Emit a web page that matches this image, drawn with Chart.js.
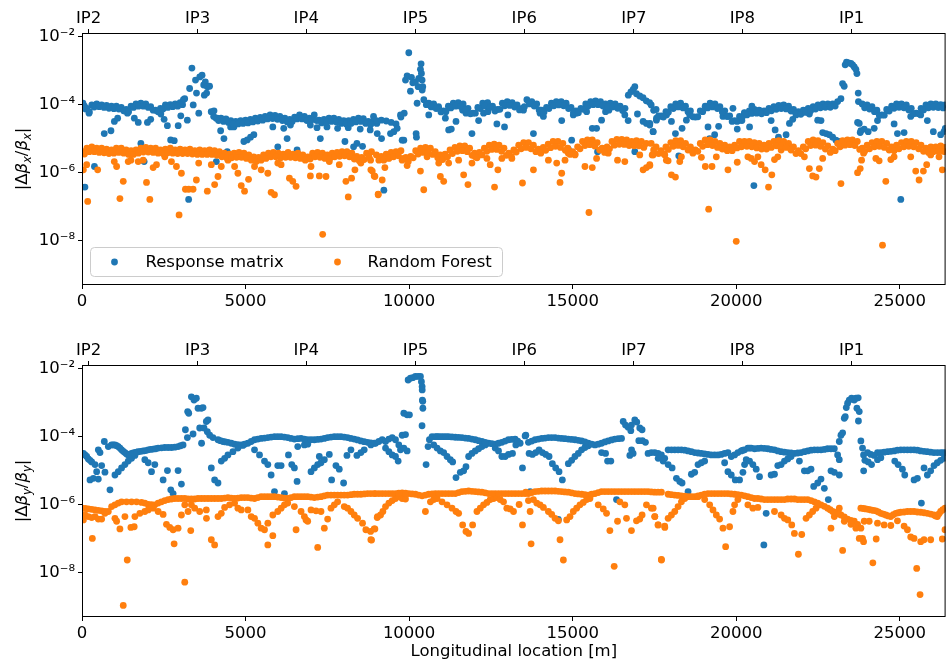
<!DOCTYPE html>
<html lang="en">
<head>
<meta charset="UTF-8">
<title>Beta-beating along the ring</title>
<script src="https://cdn.jsdelivr.net/npm/chart.js"></script>
<style>
  body { margin: 0; background: #fff; width: 949px; height: 663px; overflow: hidden; position: relative; }
  canvas { position: absolute; left: 0; }
  #topPanel { top: 0; }
  #bottomPanel { top: 332px; }
</style>
</head>
<body>
<canvas id="topPanel" width="949" height="310"></canvas>
<canvas id="bottomPanel" width="949" height="331"></canvas>
<script>
// interaction points shown on the upper axis
const ipNames = ['IP2', 'IP3', 'IP4', 'IP5', 'IP6', 'IP7', 'IP8', 'IP1'];
const ipPos = [200, 3535, 6855, 10195, 13520, 16870, 20185, 23525];
const xTicks = [0, 5000, 10000, 15000, 20000, 25000];
const yTicks = [1e-8, 1e-6, 1e-4, 1e-2];
const yTickLabels = ['10⁻⁸', '10⁻⁶', '10⁻⁴', '10⁻²'];

// horizontal plane, response matrix
const sRespX = [
  30,150,300,450,600,750,900,1050,1200,1350,1500,1650,1800,1950,2100,2250,2400,2550,2700,2850,3000,3100,
  3140,3290,3360,3400,3470,3500,3570,3600,3670,3720,3770,3830,3740,3900,3810,
  3950,4100,4250,4400,4550,4700,4850,5000,5150,5300,5450,5600,5750,5900,6050,6200,6350,6500,6650,6800,6950,7100,7250,7400,7550,7700,7850,8000,8150,8300,8450,8600,8750,8900,
  90,110,215,380,680,885,990,1090,1290,1390,1600,1720,1800,1900,2000,2100,2410,2510,2610,2710,2820,2940,3020,3220,3260,
  4035,4136,4238,4339,4106,4441,4543,4644,4949,5051,5152,5254,5833,5985,6168,6270,6372,6575,6981,7184,7286,7489,7814,8038,8139,8302,8404,8505,8576,8810,8912,9013,
  9000,9150,9300,9450,9600,9750,9850,
  8822,9025,9157,9228,9431,9533,9635,9736,9787,
  9889,9939,9990,10041,10071,10112,10193,10244,10295,10346,10366,10376,10397,10417,10400,10275,10214,10224,9838,
  10450,10600,10750,10900,11050,11200,11350,11500,11650,11800,11950,12100,12250,12400,12550,12700,12850,13000,13150,13300,13450,13600,13750,13900,14050,14200,14350,14500,14650,14800,14950,15100,15250,15400,15550,15700,15850,16000,16150,16300,16450,16600,
  16700,16780,16850,16900,16950,17050,17150,17250,17350,
  10600,10905,11108,11209,11290,11433,11636,11738,11921,12124,12276,12408,12683,12916,13018,13495,13800,14003,14105,14664,14867,14969,15019,15121,15426,15599,15731,15761,15883,16005,16107,16594,16696,16899,16980,17153,17255,17356,17458,17560,17712,
  17400,17550,17700,17850,18000,18150,18300,18450,18600,18750,18900,19050,19200,19350,19500,19650,19800,19950,20100,20250,20400,20550,20700,20850,21000,21150,21300,21450,21600,21750,21900,22050,22200,22350,22500,22650,22800,22950,23100,23200,
  23250,23300,23330,23370,23435,23506,23557,23607,23658,23689,23729,23735,23760,23790,
  23850,24000,24150,24300,24450,24600,24750,24900,25050,25200,25350,25500,25650,25800,25950,26100,26250,26380,
  17359,17460,17562,17867,18019,18141,18243,18344,18476,18578,19137,19188,19340,19462,19594,19746,19899,20031,20071,20173,20254,20407,20478,20539,21067,21189,21291,21392,21524,21626,21728,21829,21982,22236,22490,22591,22642,22744,22845,22947,23048,23150,23709,23810,23912,24034,24217,24318,24826,24928,25030,25131,25334,25639,25842,26025,26249,26350,26390
];
const respX = [
  1.1e-4,7.8e-5,9.8e-5,1.05e-4,9.8e-5,9.5e-5,9e-5,9e-5,8.3e-5,7.2e-5,9e-5,1.05e-4,1.1e-4,1.05e-4,8.7e-5,6.9e-5,7.8e-5,9.8e-5,1e-4,1.05e-4,1.15e-4,1.4e-4,
  1.5e-4,3.0e-4,1.2e-3,9.8e-5,5.3e-4,2.2e-4,5.6e-5,6.6e-4,7.4e-4,3.8e-4,4.7e-4,3.4e-4,1.9e-4,3.5e-4,2.2e-4,
  6.2e-5,4.0e-5,4.0e-5,3.8e-5,3.4e-5,3.2e-5,3.4e-5,3.5e-5,3.7e-5,4.0e-5,4.2e-5,4.5e-5,5.0e-5,4.8e-5,4.5e-5,4.0e-5,3.7e-5,4.3e-5,5.0e-5,4.5e-5,4.0e-5,5.0e-5,3.5e-5,3.7e-5,4.0e-5,4.0e-5,3.7e-5,3.4e-5,3.4e-5,3.7e-5,4.0e-5,3.9e-5,3.2e-5,3.2e-5,
  3.7e-7,7.4e-5,5.6e-5,1.5e-6,1.4e-5,1.7e-5,3.2e-5,4.0e-5,6.6e-5,5.6e-5,4.0e-5,3.0e-5,7.2e-6,2.1e-6,3.0e-5,3.7e-5,5.3e-5,3.7e-5,2.4e-5,9.1e-6,8.7e-6,2.4e-5,4.7e-5,3.5e-5,1.6e-7,
  6.6e-5,4.0e-5,1.7e-5,1.0e-5,2.1e-6,4.1e-6,2.2e-5,2.2e-5,8.2e-6,9.1e-6,1.1e-5,1.3e-5,2.2e-5,5.7e-6,2.0e-5,1.0e-5,2.5e-5,4.6e-6,2.5e-5,2.1e-5,1.0e-5,2.2e-5,2.0e-5,8.2e-6,2.1e-5,5.7e-6,7.2e-6,1.9e-5,5.9e-6,1.8e-5,4.5e-5,2.8e-5,
  3.4e-5,3.5e-5,3.3e-5,3.0e-5,2.7e-5,4.3e-5,5.6e-5,
  2.8e-5,1.4e-5,1.0e-5,3.0e-7,1.4e-5,1.6e-5,2.0e-5,5.0e-5,9.0e-6,
  5.3e-4,7.0e-4,3.4e-3,2.5e-4,6.4e-4,4.4e-4,4.7e-4,1.1e-4,6.0e-4,1.1e-3,1.6e-3,8.3e-4,5.3e-4,3.4e-4,2.7e-4,3.4e-4,1.4e-5,1.1e-5,9.0e-6,
  1.4e-4,1.1e-4,1.05e-4,8.7e-5,6.6e-5,9.0e-5,1.1e-4,1.15e-4,1.05e-4,7.8e-5,5.6e-5,8.3e-5,1.1e-4,1.15e-4,9.0e-5,7.2e-5,1.1e-4,1.23e-4,1.15e-4,9.8e-5,7.8e-5,1.4e-4,1.23e-4,1.05e-4,6.9e-5,8.3e-5,1.1e-4,1.23e-4,1.23e-4,1.1e-4,8.3e-5,6.6e-5,7.8e-5,1.05e-4,1.23e-4,1.3e-4,1.23e-4,1.05e-4,1.1e-4,1.05e-4,9.0e-5,7.8e-5,
  1.9e-4,2.4e-4,2.8e-4,3.4e-4,2.1e-4,1.8e-4,1.6e-4,1.3e-4,1.15e-4,
  5.0e-5,7.8e-5,4.0e-5,1.8e-5,1.9e-5,3.2e-5,6.9e-5,5.6e-5,1.4e-5,3.4e-5,5.6e-5,6.2e-5,2.7e-5,2.2e-5,5.0e-5,6.9e-5,1.4e-5,5.6e-5,4.5e-5,3.4e-5,4.9e-6,9.0e-6,5.0e-5,5.6e-5,6.2e-5,2.0e-5,2.0e-5,4.1e-6,3.5e-5,6.2e-5,6.9e-5,5.0e-5,3.4e-5,4.1e-6,5.3e-5,3.2e-5,2.8e-5,2.5e-5,1.6e-5,3.5e-5,4.7e-5,
  9.8e-5,7.2e-5,4.5e-5,6.2e-5,8.7e-5,1.05e-4,1.1e-4,9.0e-5,6.6e-5,4.3e-5,6.6e-5,9.0e-5,1.1e-4,1.05e-4,8.7e-5,6.6e-5,4.7e-5,3.4e-5,4.5e-5,5.8e-5,6.6e-5,7.2e-5,6.9e-5,6.6e-5,7.8e-5,8.7e-5,9.5e-5,9.8e-5,9.0e-5,7.2e-5,6.2e-5,6.9e-5,7.8e-5,8.7e-5,9.8e-5,1.05e-4,1.05e-4,1.05e-4,1.23e-4,1.5e-4,
  4.2e-4,3.5e-4,1.5e-3,1.8e-3,1.7e-3,1.65e-3,1.5e-3,1.3e-3,1.1e-3,8.3e-4,2.2e-4,1.23e-4,2.8e-5,1.5e-5,
  1.05e-4,9.8e-5,8.7e-5,6.9e-5,5.0e-5,7.2e-5,9.0e-5,1.05e-4,1.05e-4,9.8e-5,7.8e-5,5.6e-5,7.8e-5,9.8e-5,1.05e-4,1.05e-4,1.0e-4,9.8e-5,
  2.8e-5,1.6e-5,4.0e-5,5.0e-5,3.2e-5,1.4e-5,3.1e-6,2.0e-5,3.5e-5,5.0e-5,2.2e-5,1.0e-5,1.3e-5,2.3e-5,4.5e-5,4.5e-5,7.8e-5,1.9e-5,3.4e-5,3.4e-5,5.6e-5,2.2e-5,9.0e-5,4.1e-7,3.4e-5,1.8e-5,1.1e-5,5.7e-6,1.3e-5,2.8e-5,3.7e-5,5.0e-5,5.6e-5,5.3e-5,3.5e-5,3.4e-5,1.5e-5,1.4e-5,1.3e-5,1.1e-5,9.0e-6,8.2e-6,3.0e-5,1.7e-5,1.9e-5,1.6e-5,2.0e-5,3.4e-5,2.7e-5,1.4e-5,1.6e-7,1.5e-5,4.5e-5,5.0e-5,3.4e-5,1.6e-5,1.3e-5,1.6e-5,2.0e-5
];
// lower edge of the response matrix band, horizontal plane
const sRespXLow = [
  75,225,375,525,675,825,975,1125,1275,1425,1575,1725,1875,2025,2175,2325,2475,2625,2775,2925,3075,
  4025,4175,4325,4475,4625,4775,4925,5075,5225,5375,5525,5675,5825,5975,6125,6275,6425,6575,6725,6875,7025,7175,7325,7475,7625,7775,7925,8075,8225,8375,8525,8675,8825,
  10525,10675,10825,10975,11125,11275,11425,11575,11725,11875,12025,12175,12325,12475,12625,12775,12925,13075,13225,13375,13525,13675,13825,13975,14125,14275,14425,14575,14725,14875,15025,15175,15325,15475,15625,15775,15925,16075,16225,16375,16525,
  17475,17625,17775,17925,18075,18225,18375,18525,18675,18825,18975,19125,19275,19425,19575,19725,19875,20025,20175,20325,20475,20625,20775,20925,21075,21225,21375,21525,21675,21825,21975,22125,22275,22425,22575,22725,22875,23025,
  23925,24075,24225,24375,24525,24675,24825,24975,25125,25275,25425,25575,25725,25875,26025,26175,26325
];
const respXLow = [
  9.0e-5,6.2e-5,8.5e-5,8.7e-5,8.3e-5,7.8e-5,7.6e-5,7.4e-5,6.6e-5,6.2e-5,8.3e-5,9.0e-5,9.0e-5,8.3e-5,6.9e-5,6.2e-5,7.4e-5,8.3e-5,8.7e-5,9.0e-5,1.0e-4,
  4.5e-5,3.4e-5,3.2e-5,3.0e-5,2.7e-5,2.7e-5,2.8e-5,2.9e-5,3.1e-5,3.3e-5,3.5e-5,3.8e-5,3.9e-5,3.7e-5,3.4e-5,3.1e-5,3.2e-5,3.8e-5,3.8e-5,3.4e-5,3.6e-5,3.4e-5,2.9e-5,3.1e-5,3.2e-5,3.1e-5,2.8e-5,2.7e-5,2.8e-5,3.1e-5,3.2e-5,2.8e-5,2.6e-5,
  1.0e-4,8.6e-5,7.7e-5,6.1e-5,6.2e-5,8.0e-5,9.0e-5,8.8e-5,7.3e-5,5.4e-5,5.6e-5,7.7e-5,9.0e-5,8.2e-5,6.5e-5,7.3e-5,9.3e-5,9.5e-5,8.5e-5,7.0e-5,8.7e-5,1.05e-4,9.1e-5,7.0e-5,6.1e-5,7.7e-5,9.3e-5,9.8e-5,9.3e-5,7.7e-5,6.0e-5,5.8e-5,7.3e-5,9.1e-5,1.0e-4,1.0e-4,9.1e-5,8.6e-5,8.6e-5,7.8e-5,6.7e-5,
  6.8e-5,4.7e-5,4.3e-5,6.0e-5,7.7e-5,8.6e-5,8.0e-5,6.2e-5,4.4e-5,4.4e-5,6.2e-5,8.0e-5,8.6e-5,7.7e-5,6.1e-5,4.5e-5,3.2e-5,3.2e-5,4.1e-5,5.0e-5,5.5e-5,5.6e-5,5.4e-5,5.8e-5,6.6e-5,7.3e-5,7.7e-5,7.5e-5,6.5e-5,5.4e-5,5.2e-5,5.9e-5,6.6e-5,7.4e-5,8.1e-5,8.4e-5,8.4e-5,9.1e-5,
  8.1e-5,7.4e-5,6.2e-5,4.8e-5,4.9e-5,6.5e-5,7.8e-5,8.4e-5,8.1e-5,7.0e-5,5.4e-5,5.4e-5,7.0e-5,8.1e-5,8.4e-5,8.2e-5,8.0e-5
];

// horizontal plane, random forest
const sForestX = [
  20,150,300,450,600,750,900,1050,1200,1350,1500,1650,1800,1950,2100,2250,2400,2550,2700,2850,3000,3150,3300,3450,3600,3750,3900,4050,4200,4350,4500,4650,4800,4950,5100,5250,5400,5550,5700,5850,6000,6150,6300,6450,6600,6750,6900,7050,7200,7350,7500,7650,7800,7950,8100,8250,8400,8550,8700,8850,
  9000,9150,9300,9450,9600,9750,9900,10050,10200,10350,10500,10650,10800,10950,11100,11250,11400,11550,11700,11850,12000,12150,12300,12450,12600,12750,12900,13050,13200,13350,13500,13650,13800,13950,14100,14250,14400,14550,14700,14850,15000,15150,15300,15450,15600,15750,15900,16050,16200,16350,16500,16650,16800,16950,17100,17250,
  17400,17550,17700,17850,18000,18150,18300,18450,18600,18750,18900,19050,19200,19350,19500,19650,19800,19950,20100,20250,20400,20550,20700,20850,21000,21150,21300,21450,21600,21750,21900,22050,22200,22350,22500,22650,22800,22950,23100,23250,23400,23550,23700,23850,24000,24150,24300,24450,24600,24750,24900,25050,25200,25350,25500,25650,25800,25950,26100,26250,26380,
  42,143,174,479,987,1058,1159,1261,1413,1495,1718,1871,1972,2074,2175,2277,2531,2734,2887,2968,3039,3161,3263,3395,3496,3567,3831,3953,4055,4157,4258,4461,4665,4766,4868,4969,5091,5274,5477,5681,5782,5884,5985,6087,6341,6443,6544,7001,6981,7255,7459,7357,7560,7865,8068,8139,8241,8343,8525,8830,8932,9054,
  8822,8873,8954,9055,9177,9259,9381,9787,9939,10346,10447,10549,10905,10955,11057,11209,11514,11667,11799,11921,12022,12378,12479,12611,12713,12835,13140,13465,13800,14257,14511,14613,14664,14766,14867,15070,15375,15497,15599,15731,16086,16371,16594,17051,17153,17255,17356,17458,17864,
  17359,17430,17816,17918,18019,18141,18273,18324,18629,18934,19055,19157,19259,19391,19747,19848,20000,20031,20153,20356,20458,20559,20661,20762,20884,20986,21088,21169,21270,21372,21575,22083,22236,22337,22439,22540,22642,23201,23709,23790,23831,23892,24268,24369,24471,24572,24725,24826,25334,25487,25589,25721,25822,25944,26198,26300,26390
];
const forestX = [
  4.1e-6,5.2e-6,5.7e-6,5.2e-6,5.2e-6,4.9e-6,4.6e-6,5.2e-6,5.2e-6,4.6e-6,4.4e-6,4.6e-6,5.2e-6,5.5e-6,5.2e-6,5.2e-6,4.6e-6,4.9e-6,5.2e-6,4.6e-6,4.9e-6,4.6e-6,4.9e-6,4.4e-6,4.6e-6,4.4e-6,4.6e-6,4.4e-6,4.1e-6,3.7e-6,3.5e-6,3.7e-6,3.9e-6,3.7e-6,3.3e-6,2.9e-6,2.8e-6,3.3e-6,3.7e-6,3.9e-6,3.7e-6,3.5e-6,3.9e-6,3.5e-6,3.7e-6,3.3e-6,2.9e-6,3.7e-6,3.9e-6,3.7e-6,3.3e-6,3.7e-6,3.9e-6,4.1e-6,4.1e-6,3.7e-6,3.0e-6,2.8e-6,3.7e-6,4.1e-6,
  3.3e-6,3.0e-6,3.5e-6,3.9e-6,4.1e-6,4.4e-6,2.8e-6,3.0e-6,4.4e-6,5.2e-6,5.5e-6,5.2e-6,4.1e-6,3.3e-6,3.5e-6,4.6e-6,5.5e-6,6.1e-6,6.1e-6,5.2e-6,3.7e-6,3.9e-6,5.2e-6,6.4e-6,6.9e-6,6.4e-6,5.2e-6,3.7e-6,4.6e-6,6.4e-6,7.6e-6,7.6e-6,6.4e-6,4.9e-6,5.5e-6,6.9e-6,8.2e-6,8.2e-6,7.2e-6,5.2e-6,4.1e-6,5.7e-6,8.2e-6,9.1e-6,9.1e-6,7.6e-6,5.2e-6,5.7e-6,8.2e-6,9.5e-6,9.5e-6,9.1e-6,8.2e-6,8.7e-6,8.2e-6,7.2e-6,
  7.2e-6,5.7e-6,4.4e-6,5.7e-6,7.6e-6,8.7e-6,8.7e-6,7.2e-6,5.7e-6,4.6e-6,7.2e-6,9.1e-6,9.1e-6,8.2e-6,7.2e-6,6.4e-6,5.7e-6,6.4e-6,8.2e-6,8.2e-6,8.2e-6,7.6e-6,7.2e-6,6.4e-6,7.2e-6,8.2e-6,8.7e-6,8.2e-6,7.2e-6,5.7e-6,4.4e-6,5.7e-6,8.2e-6,9.1e-6,8.7e-6,7.6e-6,6.1e-6,4.9e-6,7.2e-6,8.7e-6,9.1e-6,9.1e-6,8.2e-6,5.2e-6,6.4e-6,7.6e-6,8.2e-6,8.2e-6,7.2e-6,5.7e-6,6.4e-6,7.6e-6,8.2e-6,8.2e-6,7.6e-6,6.4e-6,5.2e-6,5.7e-6,5.7e-6,6.1e-6,5.5e-6,
  1.2e-6,1.7e-6,1.4e-7,1.2e-6,2.1e-6,1.5e-6,1.7e-7,5.5e-7,2.1e-6,2.3e-6,2.1e-6,2.3e-6,5.1e-7,1.6e-7,1.4e-6,1.7e-6,2.9e-6,2.1e-6,1.5e-6,5.6e-8,9.5e-7,3.2e-7,3.2e-7,3.2e-7,6.0e-7,1.9e-6,2.8e-7,1.7e-6,4.4e-7,7.6e-7,1.5e-6,2.3e-6,1.5e-6,9.5e-7,4.1e-7,2.8e-7,6.3e-7,1.5e-6,1.2e-6,9.5e-7,2.6e-7,2.2e-7,1.9e-6,1.7e-6,6.8e-7,5.5e-7,3.9e-7,1.5e-6,7.9e-7,7.9e-7,7.6e-7,1.5e-8,2.1e-6,1.7e-6,5.5e-7,1.9e-7,6.8e-7,1.2e-6,1.9e-6,1.2e-6,7.9e-7,2.3e-7,
  2.3e-6,1.1e-6,7.6e-7,2.2e-7,6.0e-7,1.4e-6,2.6e-6,2.3e-6,1.6e-6,1.1e-6,3.1e-7,2.9e-6,1.9e-6,7.6e-7,5.5e-7,1.9e-6,2.3e-6,8.5e-7,4.4e-7,1.9e-6,2.9e-6,2.6e-6,1.7e-6,3.7e-7,1.2e-6,2.6e-6,2.6e-6,4.9e-7,1.2e-6,2.3e-6,1.9e-6,5.1e-7,9.5e-7,2.3e-6,3.7e-6,3.3e-6,1.5e-6,6.6e-8,1.4e-6,2.6e-6,3.7e-6,2.3e-6,2.1e-6,3.3e-6,1.2e-6,1.4e-6,1.7e-6,3.3e-6,2.3e-6,
  1.6e-6,3.3e-6,3.3e-6,2.2e-6,8.5e-7,7.3e-7,2.1e-6,2.9e-6,4.6e-6,2.8e-6,1.5e-6,8.3e-8,1.5e-6,2.9e-6,1.2e-6,5.2e-6,9.3e-9,2.0e-6,5.7e-6,2.9e-6,2.6e-6,2.1e-6,2.9e-6,1.7e-6,1.2e-6,3.7e-7,8.5e-7,2.4e-6,2.9e-6,4.6e-6,5.7e-6,2.9e-6,1.3e-6,7.9e-7,7.3e-7,1.3e-6,2.6e-6,4.7e-7,9.9e-7,1.3e-6,2.3e-6,3.7e-6,2.6e-6,2.2e-6,7.2e-9,5.5e-7,2.4e-6,2.9e-6,2.9e-6,1.1e-6,6.0e-7,1.1e-6,1.7e-6,3.3e-6,2.9e-6,1.2e-6,4.1e-6
];
// lower edge of the random forest band, horizontal plane
const sForestXLow = [
  75,225,375,525,675,825,975,1125,1275,1425,1575,1725,1875,2025,2175,2325,2475,2625,2775,2925,3075,3225,3375,3525,3675,3825,3975,4125,4275,4425,4575,4725,4875,5025,5175,5325,5475,5625,5775,5925,6075,6225,6375,6525,6675,6825,6975,7125,7275,7425,7575,7725,7875,8025,8175,8325,8475,8625,8775,
  9075,9225,9375,9525,9675,9825,9975,10125,10275,10425,10575,10725,10875,11025,11175,11325,11475,11625,11775,11925,12075,12225,12375,12525,12675,12825,12975,13125,13275,13425,13575,13725,13875,14025,14175,14325,14475,14625,14775,14925,15075,15225,15375,15525,15675,15825,15975,16125,16275,16425,16575,16725,16875,17025,17175,
  17475,17625,17775,17925,18075,18225,18375,18525,18675,18825,18975,19125,19275,19425,19575,19725,19875,20025,20175,20325,20475,20625,20775,20925,21075,21225,21375,21525,21675,21825,21975,22125,22275,22425,22575,22725,22875,23025,23175,23325,23475,23625,23775,23925,24075,24225,24375,24525,24675,24825,24975,25125,25275,25425,25575,25725,25875,26025,26175,26325
];
const forestXLow = [
  3.5e-6,4.1e-6,4.1e-6,3.9e-6,3.8e-6,3.6e-6,3.7e-6,3.9e-6,3.7e-6,3.4e-6,3.4e-6,3.7e-6,4.0e-6,4.0e-6,3.9e-6,3.7e-6,3.6e-6,3.8e-6,3.7e-6,3.6e-6,3.6e-6,3.6e-6,3.5e-6,3.4e-6,3.4e-6,3.4e-6,3.4e-6,3.2e-6,2.9e-6,2.7e-6,2.7e-6,2.8e-6,2.8e-6,2.6e-6,2.3e-6,2.1e-6,2.3e-6,2.6e-6,2.9e-6,2.9e-6,2.7e-6,2.8e-6,2.8e-6,2.7e-6,2.6e-6,2.3e-6,2.5e-6,2.9e-6,2.8e-6,2.6e-6,2.6e-6,2.9e-6,3.0e-6,3.1e-6,2.9e-6,2.5e-6,2.2e-6,2.4e-6,2.9e-6,
  2.3e-6,2.3e-6,2.7e-6,2.9e-6,3.1e-6,2.6e-6,2.1e-6,2.7e-6,3.5e-6,3.9e-6,3.9e-6,3.4e-6,2.7e-6,2.4e-6,2.9e-6,3.6e-6,4.2e-6,4.4e-6,4.1e-6,3.2e-6,2.7e-6,3.3e-6,4.2e-6,4.8e-6,4.8e-6,4.2e-6,3.2e-6,3.0e-6,4.0e-6,5.0e-6,5.5e-6,5.0e-6,4.1e-6,3.7e-6,4.5e-6,5.4e-6,5.9e-6,5.5e-6,4.5e-6,3.4e-6,3.5e-6,5.0e-6,6.2e-6,6.6e-6,6.0e-6,4.6e-6,3.9e-6,5.0e-6,6.4e-6,6.8e-6,6.7e-6,6.2e-6,6.1e-6,6.1e-6,5.5e-6,
  4.6e-6,3.6e-6,3.6e-6,4.8e-6,5.9e-6,6.3e-6,5.7e-6,4.6e-6,3.7e-6,4.2e-6,5.9e-6,6.6e-6,6.2e-6,5.5e-6,4.9e-6,4.4e-6,4.4e-6,5.3e-6,5.9e-6,5.9e-6,5.7e-6,5.3e-6,4.9e-6,4.9e-6,5.5e-6,6.1e-6,6.1e-6,5.5e-6,4.6e-6,3.6e-6,3.6e-6,5.0e-6,6.2e-6,6.4e-6,5.9e-6,4.9e-6,3.9e-6,4.4e-6,5.7e-6,6.4e-6,6.6e-6,6.2e-6,4.8e-6,4.2e-6,5.0e-6,5.7e-6,5.9e-6,5.5e-6,4.6e-6,4.4e-6,5.0e-6,5.7e-6,5.9e-6,5.7e-6,5.0e-6,4.2e-6,3.9e-6,4.1e-6,4.2e-6,4.2e-6
];

// vertical plane, response matrix
const sRespY = [
  42,93,143,194,245,296,397,448,245,347,499,499,550,601,682,702,804,855,905,1007,1109,1210,1312,1413,1515,1617,1718,1871,2023,2175,2328,2531,2734,2937,3090,
  1007,1109,1210,1312,1413,1515,1617,1921,2023,2125,2226,2480,2612,2714,2785,2937,3039,
  3161,3222,3230,3263,3344,3425,3496,3395,3547,3649,3700,3598,3655,3730,3801,3852,3831,3903,4004,
  4157,4309,4461,4665,4868,5071,5274,5477,5681,5884,6087,6290,6493,6697,6900,7103,7306,7509,7713,7916,8119,8322,8525,8729,8932,
  4258,4360,4461,4614,4766,4919,5274,5427,5579,5681,
  3953,4055,4157,5782,5884,5985,6087,6189,6311,6412,6493,6575,6595,6798,6900,7001,7103,7205,7255,7306,7408,7560,7631,7763,7865,7997,8099,8221,8404,8525,8627,8830,
  8974,9076,9177,9279,9381,9482,9584,9685,9787,9889,9279,9381,9482,9584,9665,9736,9838,9939,
  9838,9939,10010,9970,10041,10112,10193,10275,10346,10376,10397,10400,10405,10417,10420,10395,10519,
  10579,10620,10701,10803,10905,11057,11209,11413,11616,11819,12022,12226,12429,12632,12835,13038,13241,13394,13546,13648,13851,14054,14257,14461,14664,14867,15070,15273,15477,15680,15883,16086,16289,16493,
  16544,16615,16696,16797,16899,16960,16777,17051,17122,17021,17130,17224,16800,16848,16747,17305,17407,17509,17610,17712,17813,
  10752,10854,10955,11057,11159,11260,11331,11433,11565,11667,11738,11819,11921,12022,12124,12226,12327,12632,12733,12835,12937,13038,13160,13262,13465,13567,13668,13770,13871,13973,14074,14176,14278,14379,14481,14583,14684,14867,14969,15070,15172,15273,15375,15477,15883,16005,16066,16167,13699,14562,16340,
  17918,18121,18324,18527,18730,18934,19137,19340,19543,19746,19848,19950,20051,20153,20255,20356,20458,20559,20762,20966,21169,21372,21575,21778,21982,22185,22388,22591,22794,22998,23099,23150,
  17613,17765,17918,18040,18172,18273,18344,18527,18629,18730,18832,18934,19035,19645,19746,19848,19970,20102,20204,20255,20305,20407,20508,20610,20712,20844,20915,21067,21169,21270,21372,21474,21575,21677,21931,22083,22185,22286,22368,22490,22591,22693,22815,22896,22998,23150,
  23150,23201,23252,23303,23333,23364,23404,23455,23526,23607,23658,23729,23689,23760,23735,23810,23861,23892,23932,23895,
  24014,24115,24217,24318,24420,24623,24826,25030,25233,25436,25639,25842,26046,26249,26390,
  24034,24136,24318,24420,24846,24948,25080,25152,25436,25538,25660,25741,25842,25944,26046,26147,26249,26350
];
const respY = [
  3.2e-5,2.9e-5,2.6e-5,2.2e-5,2.0e-5,1.8e-5,1.5e-5,9.3e-6,5.3e-6,5.9e-6,5.6e-6,4.1e-5,3.4e-5,1.4e-5,7.2e-5,9.0e-6,5.1e-5,2.7e-6,5.7e-5,5.7e-5,5.1e-5,4.1e-5,3.4e-5,2.9e-5,3.2e-5,3.4e-5,3.6e-5,3.8e-5,4.1e-5,4.3e-5,4.6e-5,4.8e-5,4.8e-5,5.1e-5,5.7e-5,
  7.4e-6,9.3e-6,1.2e-5,1.5e-5,1.9e-5,2.3e-5,2.8e-5,2.1e-5,1.7e-5,9.3e-6,1.5e-5,5.3e-6,1.0e-5,2.7e-6,2.1e-6,1.0e-5,4.0e-6,
  1.6e-4,9.4e-5,5.5e-4,4.9e-4,1.5e-3,1.2e-3,1.36e-3,1.2e-4,6.9e-4,6.9e-4,7.2e-4,1.8e-4,6.4e-5,1.8e-4,2.8e-4,3.1e-4,1.4e-4,1.1e-4,9.4e-5,
  8.1e-5,7.2e-5,6.8e-5,6.0e-5,5.7e-5,6.4e-5,8.1e-5,8.9e-5,9.4e-5,1.0e-4,1.0e-4,9.4e-5,8.5e-5,8.9e-5,8.1e-5,8.1e-5,8.5e-5,9.4e-5,1.0e-4,1.0e-4,9.4e-5,8.5e-5,7.5e-5,6.8e-5,6.4e-5,
  1.9e-5,2.3e-5,2.9e-5,3.6e-5,4.6e-5,5.5e-5,4.1e-5,2.9e-5,1.9e-5,1.5e-5,
  1.2e-5,5.3e-6,4.3e-6,7.4e-6,2.4e-6,1.4e-5,1.4e-5,2.1e-6,2.9e-5,1.5e-5,1.2e-5,4.8e-6,5.1e-5,5.7e-5,6.0e-5,9.3e-6,1.2e-5,1.5e-5,2.6e-5,1.7e-5,2.1e-5,3.0e-5,5.3e-6,1.4e-5,1.1e-5,4.3e-6,2.8e-5,4.1e-5,2.8e-5,3.4e-5,4.1e-5,5.7e-5,
  6.4e-5,7.2e-5,8.1e-5,7.2e-5,8.5e-5,9.4e-5,8.1e-5,5.7e-5,1.1e-4,1.15e-4,4.6e-5,3.6e-5,2.9e-5,2.6e-5,1.9e-5,4.1e-5,4.6e-5,3.8e-5,
  4.9e-4,4.4e-4,4.4e-4,4.7e-3,5.3e-3,5.5e-3,6.0e-3,6.0e-3,6.0e-3,4.2e-3,3.0e-3,2.4e-3,1.2e-3,1.1e-3,6.9e-4,2.1e-4,1.5e-5,
  5.1e-5,8.1e-5,1.0e-4,1.0e-4,1.0e-4,1.0e-4,1.0e-4,9.6e-5,9.4e-5,8.9e-5,8.1e-5,7.2e-5,6.4e-5,6.0e-5,6.8e-5,8.1e-5,8.5e-5,6.4e-5,1.05e-4,6.8e-5,8.1e-5,8.9e-5,9.4e-5,9.4e-5,8.9e-5,8.5e-5,8.1e-5,7.5e-5,6.4e-5,5.7e-5,6.4e-5,7.5e-5,8.5e-5,8.9e-5,
  2.8e-4,2.2e-4,1.9e-4,2.2e-4,3.1e-4,2.7e-4,1.5e-4,1.8e-4,1.6e-4,7.6e-5,7.6e-5,6.8e-5,4.1e-5,3.2e-5,2.8e-5,3.2e-5,3.4e-5,3.4e-5,3.2e-5,2.9e-5,2.3e-5,
  5.7e-5,4.6e-5,3.8e-5,3.4e-5,2.6e-5,2.1e-5,1.8e-5,6.2e-6,8.9e-6,9.8e-6,1.3e-5,2.6e-5,3.2e-5,3.8e-5,4.4e-5,5.1e-5,5.7e-5,4.6e-5,3.8e-5,2.6e-5,2.6e-5,3.0e-5,3.2e-5,5.7e-5,1.2e-5,1.1e-4,3.2e-5,3.0e-5,3.4e-5,4.1e-5,3.4e-5,3.0e-5,2.6e-5,1.6e-5,1.2e-5,9.3e-6,5.3e-6,1.6e-5,2.0e-5,2.6e-5,3.2e-5,4.1e-5,4.8e-5,5.4e-5,3.4e-5,3.2e-5,1.9e-5,1.9e-5,2.4e-6,3.6e-7,1.4e-6,
  4.1e-5,4.1e-5,4.1e-5,3.8e-5,3.4e-5,3.2e-5,3.0e-5,2.9e-5,3.0e-5,3.4e-5,2.6e-5,2.9e-5,3.4e-5,3.8e-5,4.1e-5,4.6e-5,4.6e-5,4.4e-5,4.6e-5,4.4e-5,4.1e-5,3.6e-5,3.4e-5,3.2e-5,3.4e-5,3.8e-5,4.1e-5,4.1e-5,4.4e-5,4.4e-5,2.9e-5,2.1e-5,
  2.3e-5,1.9e-5,1.5e-5,1.2e-5,5.9e-6,4.8e-6,4.3e-6,2.4e-6,7.8e-6,8.9e-6,1.5e-5,1.7e-5,1.9e-5,1.7e-5,9.3e-6,7.4e-6,5.3e-6,5.3e-6,8.9e-6,1.5e-5,2.1e-5,1.9e-5,1.5e-5,1.1e-5,6.6e-6,6.4e-8,5.5e-7,7.4e-6,7.8e-6,1.4e-5,1.5e-5,1.9e-5,2.2e-5,2.6e-5,1.9e-5,9.8e-6,9.8e-6,1.1e-5,3.4e-6,4.3e-6,5.6e-6,3.0e-6,1.4e-6,9.8e-6,8.9e-6,7.4e-6,
  7.2e-5,1.1e-4,1.3e-4,3.5e-4,3.9e-4,7.2e-4,9.7e-4,1.2e-3,1.36e-3,1.2e-3,1.36e-3,1.4e-3,6.9e-4,5.5e-4,2.9e-4,7.5e-5,4.6e-5,2.9e-5,2.0e-5,9.8e-6,
  3.4e-5,3.0e-5,2.8e-5,3.4e-5,3.4e-5,3.6e-5,3.8e-5,4.1e-5,4.1e-5,4.1e-5,3.8e-5,3.6e-5,3.4e-5,3.4e-5,3.4e-5,
  1.8e-5,1.5e-5,2.1e-5,2.4e-5,1.9e-5,1.5e-5,1.1e-5,7.4e-6,5.3e-6,5.9e-6,1.1e-6,1.2e-5,7.4e-6,9.8e-6,1.4e-5,1.7e-5,2.0e-5,2.3e-5
];
// extra monitors read along the dense response matrix band, vertical plane
const sRespYBand = [
  956,1058,1160,1261,1362,1464,1566,1668,1795,1947,2099,2252,2430,2633,2836,3014,
  4233,4385,4563,4766,4970,5172,5375,5579,5782,5985,6188,6391,6595,6798,7001,7204,7407,7611,7814,8017,8220,8423,8627,8830,
  10854,10981,11133,11311,11515,11718,11921,12124,12328,12531,12734,12937,13140,13318,13750,13953,14156,14359,14563,14766,14969,15172,15375,15579,15782,15985,16188,16391,
  18020,18223,18426,18629,18832,19035,19239,19442,19645,20204,20407,20661,20864,21067,21270,21474,21677,21880,22083,22286,22490,22693,22896,
  24521,24725,24928,25131,25335,25538,25741,25944,26148,26320
];
const respYBand = [
  5.7e-5,5.4e-5,4.6e-5,3.7e-5,3.1e-5,3.0e-5,3.3e-5,3.5e-5,3.7e-5,3.9e-5,4.2e-5,4.4e-5,4.7e-5,4.8e-5,4.9e-5,5.4e-5,
  7.6e-5,7.0e-5,6.4e-5,5.8e-5,6.0e-5,7.2e-5,8.5e-5,9.1e-5,9.7e-5,1.0e-4,9.7e-5,8.9e-5,8.7e-5,8.5e-5,8.1e-5,8.3e-5,8.9e-5,9.7e-5,1.0e-4,9.7e-5,8.9e-5,8.0e-5,7.1e-5,6.6e-5,
  1.0e-4,1.0e-4,1.0e-4,9.8e-5,9.5e-5,9.1e-5,8.5e-5,7.6e-5,6.8e-5,6.2e-5,6.4e-5,7.4e-5,8.3e-5,7.4e-5,7.4e-5,8.5e-5,9.1e-5,9.4e-5,9.1e-5,8.7e-5,8.3e-5,7.8e-5,7.0e-5,6.0e-5,6.0e-5,7.0e-5,8.0e-5,8.7e-5,
  4.1e-5,4.1e-5,4.0e-5,3.6e-5,3.3e-5,3.1e-5,2.9e-5,2.9e-5,3.2e-5,4.0e-5,4.6e-5,4.5e-5,4.5e-5,4.2e-5,3.8e-5,3.5e-5,3.3e-5,3.3e-5,3.6e-5,4.0e-5,4.1e-5,4.2e-5,4.4e-5,
  3.5e-5,3.7e-5,4.0e-5,4.1e-5,4.1e-5,4.0e-5,3.7e-5,3.5e-5,3.4e-5,3.4e-5
];

// vertical plane, random forest
const sForestY = [
  10,194,397,601,804,905,1007,1109,1210,1515,1820,2023,2226,2429,2633,2836,3039,3242,3445,3649,3852,4055,4258,4461,4665,4868,5071,5274,5477,5681,5884,6087,6290,6493,6697,6900,7103,7306,7509,7713,7916,8119,8322,8525,8729,8932,
  42,93,194,296,397,499,601,702,1007,1058,1312,1617,1769,1921,2023,2175,2328,2480,2582,2683,2785,2937,3039,3141,3242,3344,3445,3598,3801,3805,4157,4258,4360,4512,4665,4766,4868,5071,5173,5274,5376,5477,5579,5681,5833,5985,6087,6189,6290,6493,6697,6798,6849,6900,7001,7154,7306,7408,7509,7611,7713,7814,8017,8119,8221,8322,8424,8576,8678,8830,8932,9033,
  316,1159,1261,1383,1495,1596,2816,3141,3324,3953,4055,5681,5833,6544,7205,
  8974,9177,9381,9584,9787,9990,10193,10397,10600,10803,11006,11209,11413,11616,11819,12022,12226,12429,12632,12835,13038,13241,13445,13648,13851,14054,14257,14461,14664,14867,15070,15273,15477,15680,15883,16086,16289,16493,16696,16899,17102,17305,17509,17712,
  8822,8852,8954,9025,9127,9198,9279,9381,9482,9584,9685,9787,9889,10498,10651,10752,10854,11006,11159,11311,11433,11514,11636,11738,11819,11941,12073,12175,12276,12378,12479,12581,12683,12784,12886,12987,13089,13191,13363,13465,13567,13648,13699,13729,13800,13902,14003,14105,14257,14359,14461,14562,14613,14715,14816,14918,15019,15121,15223,15324,15426,15527,15781,15934,16035,16137,16269,16371,16442,16594,16645,16797,16950,17051,17122,17255,17407,17509,17610,17712,17813,
  17918,18121,18324,18527,18730,18934,19137,19340,19543,19746,19950,20153,20356,20559,20762,20966,21169,21372,21575,21778,21982,22185,22388,22591,22794,22947,23099,23201,23404,23607,23709,23810,23861,23892,
  17460,17511,17613,17816,17714,17918,18019,18121,18222,18324,18426,18832,19035,19188,19289,19391,19492,19594,19676,19797,19899,19950,20051,20356,20508,20661,21169,21372,21474,21575,21697,21778,21900,22002,22134,22236,22337,22439,22540,22896,22998,23150,23252,23303,23506,23658,23760,
  23810,23963,24115,24268,24420,24572,24725,24877,25030,25233,25436,25639,25842,26046,26147,26249,26381,
  23912,24064,24318,24521,24725,24928,25131,25233,25334,25436,25639,25741,25944,26300,26381,24176,24278,25517,25619
];
const forestY = [
  7.8e-7,7.4e-7,6.9e-7,6.5e-7,6.2e-7,8.7e-7,9.8e-7,1.1e-6,1.2e-6,1.2e-6,1.15e-6,1.0e-6,9.8e-7,1.2e-6,1.4e-6,1.5e-6,1.5e-6,1.45e-6,1.45e-6,1.5e-6,1.5e-6,1.5e-6,1.5e-6,1.6e-6,1.5e-6,1.6e-6,1.6e-6,1.5e-6,1.7e-6,1.7e-6,1.7e-6,1.6e-6,1.5e-6,1.7e-6,1.7e-6,1.7e-6,1.6e-6,1.7e-6,1.9e-6,1.9e-6,1.9e-6,1.9e-6,2.0e-6,2.0e-6,2.1e-6,2.1e-6,
  3.5e-7,4.9e-7,4.4e-7,4.1e-7,4.4e-7,3.7e-7,3.7e-7,5.5e-7,3.9e-7,3.2e-7,4.4e-7,4.4e-7,5.5e-7,6.2e-7,6.9e-7,7.8e-7,6.2e-7,5.1e-7,2.6e-7,2.1e-7,1.8e-7,2.0e-7,4.9e-7,9.8e-7,6.2e-7,9.8e-7,7.8e-7,6.2e-7,6.9e-7,3.9e-7,4.4e-7,5.5e-7,8.2e-7,9.8e-7,1.1e-6,7.8e-7,6.9e-7,6.9e-7,4.4e-7,3.9e-7,2.8e-7,2.0e-7,1.8e-7,2.8e-7,4.9e-7,6.2e-7,7.8e-7,9.8e-7,1.1e-6,8.7e-7,6.2e-7,4.4e-7,3.5e-7,3.2e-7,6.9e-7,6.5e-7,6.2e-7,2.0e-7,3.7e-7,7.8e-7,9.8e-7,1.2e-6,8.7e-7,7.8e-7,6.2e-7,4.9e-7,3.9e-7,2.8e-7,1.8e-7,9.1e-8,1.9e-7,4.4e-7,
  1.0e-7,1.9e-7,1.05e-9,2.3e-8,2.1e-7,2.2e-7,6.9e-8,5.1e-9,1.7e-7,9.1e-8,6.4e-8,6.4e-8,1.2e-7,1.8e-7,5.4e-8,
  2.1e-6,2.1e-6,2.1e-6,2.1e-6,2.2e-6,2.1e-6,2.0e-6,1.8e-6,2.0e-6,2.1e-6,2.1e-6,2.1e-6,2.1e-6,2.4e-6,2.5e-6,2.4e-6,2.3e-6,2.1e-6,2.1e-6,2.1e-6,2.1e-6,2.1e-6,2.1e-6,2.1e-6,2.4e-6,2.5e-6,2.5e-6,2.5e-6,2.4e-6,2.3e-6,2.1e-6,2.0e-6,1.9e-6,2.1e-6,2.4e-6,2.4e-6,2.4e-6,2.4e-6,2.4e-6,2.4e-6,2.4e-6,2.4e-6,2.3e-6,2.3e-6,
  1.6e-7,8.9e-8,1.9e-7,4.1e-7,4.9e-7,6.2e-7,8.7e-7,1.1e-6,1.3e-6,1.5e-6,1.7e-6,1.5e-6,1.45e-6,6.2e-7,1.2e-6,1.4e-6,1.5e-6,1.2e-6,9.8e-7,7.8e-7,6.2e-7,5.5e-7,2.5e-7,1.6e-7,1.4e-7,2.5e-7,6.2e-7,7.8e-7,9.8e-7,1.15e-6,1.4e-6,1.5e-6,1.6e-6,1.4e-6,1.2e-6,7.8e-7,7.4e-7,6.2e-7,1.0e-6,2.5e-7,2.3e-6,1.3e-6,6.2e-7,6.9e-8,1.4e-6,1.1e-6,9.8e-7,8.2e-7,6.2e-7,5.1e-7,3.9e-7,3.3e-7,9.1e-8,2.3e-8,3.5e-7,4.4e-7,6.2e-7,7.8e-7,9.8e-7,1.15e-6,1.4e-6,1.5e-6,9.8e-7,7.4e-7,5.5e-7,1.7e-7,1.5e-8,3.2e-7,1.2e-6,9.8e-7,3.9e-7,1.7e-7,3.3e-7,3.7e-7,4.9e-7,9.8e-7,7.8e-7,4.4e-7,2.5e-7,2.4e-8,2.3e-7,
  2.0e-6,1.9e-6,1.8e-6,1.7e-6,1.7e-6,1.9e-6,2.1e-6,2.1e-6,2.1e-6,2.1e-6,2.0e-6,1.9e-6,1.7e-6,1.5e-6,1.45e-6,1.4e-6,1.4e-6,1.4e-6,1.45e-6,1.45e-6,1.4e-6,1.4e-6,1.2e-6,9.8e-7,7.8e-7,6.2e-7,5.5e-7,4.9e-7,3.7e-7,3.2e-7,2.6e-7,2.0e-7,1.0e-7,8.0e-8,
  7.8e-7,4.4e-7,2.5e-7,2.1e-7,2.3e-8,3.9e-7,4.9e-7,6.2e-7,8.7e-7,1.2e-6,1.5e-6,1.7e-6,1.4e-6,9.8e-7,6.9e-7,4.9e-7,3.7e-7,2.0e-7,5.7e-8,2.2e-7,6.2e-7,9.8e-7,1.4e-6,9.8e-7,7.8e-7,8.2e-7,6.2e-7,4.9e-7,3.9e-7,3.5e-7,2.5e-7,1.4e-7,3.4e-8,1.3e-7,3.9e-7,4.9e-7,6.2e-7,7.8e-7,9.8e-7,2.0e-7,4.4e-7,7.8e-7,4.4e-8,3.2e-7,2.6e-7,2.0e-7,1.0e-7,
  7.8e-7,7.4e-7,6.9e-7,6.5e-7,5.5e-7,4.9e-7,4.4e-7,5.5e-7,5.9e-7,6.2e-7,6.2e-7,5.9e-7,5.5e-7,4.9e-7,4.4e-7,6.2e-7,7.8e-7,
  3.2e-7,3.2e-7,2.8e-7,2.5e-7,2.4e-7,3.3e-7,2.3e-7,1.8e-7,1.1e-7,1.0e-7,8.0e-8,9.1e-8,9.1e-8,9.6e-8,1.8e-7,1.9e-8,9.6e-8,1.3e-8,2.2e-9
];
// extra monitors read along the dense random forest band, vertical plane
const sForestYBand = [
  100,296,499,702,
  1362,1668,1921,2125,2328,2531,2734,2937,3141,3344,3547,3750,3953,4157,4360,4563,4766,4970,5172,5375,5579,5782,5985,6188,6391,6595,6798,7001,7204,7407,7611,7814,8017,8220,8423,8627,8830,
  9076,9279,9482,9685,9889,10092,10295,10498,10701,10905,11108,11311,11514,11718,11921,12124,12328,12531,12734,12937,13140,13343,13547,13750,13953,14156,14359,14563,14766,14969,15172,15375,15579,15782,15985,16188,16391,16595,16798,17001,17204,17407,17610,
  18020,18223,18426,18629,18832,19035,19239,19442,19645,19848,20051,20255,20458,20661,20864,21067,21270,21474,21677,21880,22083,22286,22490,22693,22870,23023,23150,23303,23506,
  23887,24039,24192,24344,24496,24649,24801,24954,25131,25335,25538,25741,25944,26097,26198,26315
];
const forestYBand = [
  7.6e-7,7.2e-7,6.7e-7,6.3e-7,
  1.2e-6,1.2e-6,1.1e-6,9.9e-7,1.1e-6,1.3e-6,1.45e-6,1.5e-6,1.5e-6,1.45e-6,1.5e-6,1.5e-6,1.5e-6,1.5e-6,1.55e-6,1.55e-6,1.55e-6,1.6e-6,1.55e-6,1.6e-6,1.7e-6,1.7e-6,1.65e-6,1.55e-6,1.6e-6,1.7e-6,1.7e-6,1.65e-6,1.65e-6,1.8e-6,1.9e-6,1.9e-6,1.9e-6,1.95e-6,2.0e-6,2.05e-6,2.1e-6,
  2.1e-6,2.1e-6,2.1e-6,2.15e-6,2.15e-6,2.05e-6,1.9e-6,1.9e-6,2.05e-6,2.1e-6,2.1e-6,2.1e-6,2.25e-6,2.45e-6,2.45e-6,2.35e-6,2.2e-6,2.1e-6,2.1e-6,2.1e-6,2.1e-6,2.1e-6,2.1e-6,2.25e-6,2.45e-6,2.5e-6,2.5e-6,2.45e-6,2.35e-6,2.2e-6,2.05e-6,1.95e-6,2.0e-6,2.25e-6,2.4e-6,2.4e-6,2.4e-6,2.4e-6,2.4e-6,2.4e-6,2.4e-6,2.35e-6,2.3e-6,
  1.95e-6,1.85e-6,1.75e-6,1.7e-6,1.8e-6,2.0e-6,2.1e-6,2.1e-6,2.1e-6,2.05e-6,1.95e-6,1.8e-6,1.6e-6,1.5e-6,1.4e-6,1.4e-6,1.4e-6,1.4e-6,1.45e-6,1.4e-6,1.4e-6,1.3e-6,1.1e-6,8.8e-7,7.0e-7,5.8e-7,5.2e-7,4.3e-7,3.4e-7,
  7.6e-7,7.2e-7,6.7e-7,6.0e-7,5.2e-7,4.6e-7,5.0e-7,5.7e-7,6.0e-7,6.2e-7,6.0e-7,5.7e-7,5.2e-7,4.6e-7,5.3e-7,7.0e-7
];

const BLUE = '#1f77b4';
const ORANGE = '#ff7f0e';
const FONT = "'DejaVu Sans', sans-serif";
const FONT_SIZE = 16.5;

function toPoints(s, v) {
  return s.map((x, i) => ({ x: x, y: v[i] }));
}

// full box around the plotting area
const frame = {
  id: 'frame',
  afterDatasetsDraw(chart) {
    const { ctx, chartArea: a } = chart;
    ctx.save();
    ctx.strokeStyle = '#000';
    ctx.lineWidth = 1;
    ctx.strokeRect(a.left + 0.5, a.top + 0.5, a.right - a.left - 1, a.bottom - a.top - 1);
    ctx.restore();
  }
};

// rotated |Δβ/β| label with italic subscripts
const yLabel = {
  id: 'yLabel',
  afterDraw(chart, args, opts) {
    const { ctx, chartArea: a } = chart;
    const big = FONT_SIZE + 'px ' + FONT;
    const bigIt = 'italic ' + FONT_SIZE + 'px ' + FONT;
    const small = 'italic 11.5px ' + FONT;
    const parts = [
      ['|Δ', big, 0], ['β', bigIt, 0], [opts.sub, small, 4],
      ['/', big, 0], ['β', bigIt, 0], [opts.sub, small, 4], ['|', big, 0]
    ];
    let total = 0;
    parts.forEach(p => { ctx.font = p[1]; total += ctx.measureText(p[0]).width; });
    ctx.save();
    ctx.translate(21, (a.top + a.bottom) / 2);
    ctx.rotate(-Math.PI / 2);
    ctx.fillStyle = '#000';
    ctx.textBaseline = 'alphabetic';
    let x = -total / 2;
    parts.forEach(p => {
      ctx.font = p[1];
      ctx.fillText(p[0], x, 6 + p[2]);
      x += ctx.measureText(p[0]).width;
    });
    ctx.restore();
  }
};

// legend box in the lower left corner of the upper panel
const legendBox = {
  id: 'legendBox',
  afterDraw(chart) {
    const { ctx, chartArea: a } = chart;
    const x0 = a.left + 8.5, y0 = a.bottom - 37.5, w = 412, h = 29, r = 4;
    ctx.save();
    ctx.beginPath();
    ctx.moveTo(x0 + r, y0);
    ctx.arcTo(x0 + w, y0, x0 + w, y0 + h, r);
    ctx.arcTo(x0 + w, y0 + h, x0, y0 + h, r);
    ctx.arcTo(x0, y0 + h, x0, y0, r);
    ctx.arcTo(x0, y0, x0 + w, y0, r);
    ctx.closePath();
    ctx.fillStyle = 'rgba(255,255,255,0.8)';
    ctx.fill();
    ctx.strokeStyle = '#cccccc';
    ctx.lineWidth = 1;
    ctx.stroke();
    const cy = y0 + h / 2;
    const entries = [
      [BLUE, 'Response matrix', 24, 55],
      [ORANGE, 'Random Forest', 247, 277]
    ];
    ctx.font = FONT_SIZE + 'px ' + FONT;
    ctx.textBaseline = 'middle';
    entries.forEach(e => {
      ctx.fillStyle = e[0];
      ctx.beginPath();
      ctx.arc(x0 + e[2], cy, 3.4, 0, Math.PI * 2);
      ctx.fill();
      ctx.fillStyle = '#000';
      ctx.fillText(e[1], x0 + e[3], cy + 1);
    });
    ctx.restore();
  }
};

function tickStyle(pad) {
  return { color: '#000', font: { family: FONT, size: FONT_SIZE }, padding: pad, autoSkip: false, maxRotation: 0 };
}
const tickGrid = { display: true, drawOnChartArea: false, drawTicks: true, tickLength: 4, color: '#000', lineWidth: 1 };

function makePanel(id, cfg) {
  const extra = [frame, yLabel];
  if (cfg.legend) extra.push(legendBox);
  return new Chart(document.getElementById(id), {
    type: 'scatter',
    data: {
      datasets: [
        { label: 'Response matrix', data: toPoints(cfg.rmS, cfg.rmV), backgroundColor: BLUE, order: 2, clip: 0 },
        { label: 'Random Forest', data: toPoints(cfg.rfS, cfg.rfV), backgroundColor: ORANGE, order: 1, clip: 0 }
      ]
    },
    options: {
      responsive: false,
      animation: false,
      events: [],
      devicePixelRatio: 1,
      layout: { padding: { left: 0, right: 1, top: 0, bottom: 0 } },
      elements: { point: { radius: 3.4, hoverRadius: 3.4, borderWidth: 0 } },
      plugins: {
        legend: { display: false },
        tooltip: { enabled: false },
        yLabel: { sub: cfg.sub }
      },
      scales: {
        x: {
          type: 'linear', position: 'bottom', min: 0, max: 26400,
          afterBuildTicks: s => { s.ticks = xTicks.map(v => ({ value: v })); },
          ticks: Object.assign(tickStyle(3), { callback: v => String(v) }),
          grid: tickGrid,
          border: { display: false },
          title: {
            display: !!cfg.xTitle, text: cfg.xTitle || '', color: '#000',
            font: { family: FONT, size: FONT_SIZE }, padding: { top: 0, bottom: 1 }
          },
          afterFit: s => { s.height = cfg.bottomH; }
        },
        ip: {
          type: 'linear', position: 'top', min: 0, max: 26400,
          afterBuildTicks: s => { s.ticks = ipPos.map(v => ({ value: v })); },
          ticks: Object.assign(tickStyle(0), { callback: (v, i) => ipNames[i] }),
          grid: tickGrid,
          border: { display: false },
          afterFit: s => { s.height = 33; }
        },
        y: {
          type: 'logarithmic', position: 'left', min: 4.8e-10, max: 1.3e-2,
          afterBuildTicks: s => { s.ticks = yTicks.map(v => ({ value: v })); },
          ticks: Object.assign(tickStyle(3), { callback: (v, i) => yTickLabels[i] }),
          grid: tickGrid,
          border: { display: false },
          afterFit: s => { s.width = 82; }
        }
      }
    },
    plugins: extra
  });
}

makePanel('topPanel', {
  rmS: sRespX.concat(sRespXLow), rmV: respX.concat(respXLow),
  rfS: sForestX.concat(sForestXLow), rfV: forestX.concat(forestXLow),
  sub: 'x', legend: true, bottomH: 25
});
makePanel('bottomPanel', {
  rmS: sRespY.concat(sRespYBand), rmV: respY.concat(respYBand),
  rfS: sForestY.concat(sForestYBand), rfV: forestY.concat(forestYBand),
  sub: 'y', legend: false, bottomH: 46, xTitle: 'Longitudinal location [m]'
});
</script>
</body>
</html>
